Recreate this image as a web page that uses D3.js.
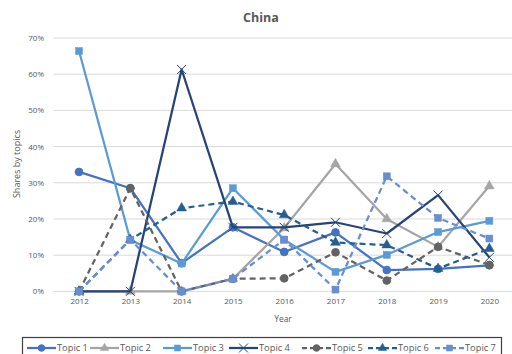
<!DOCTYPE html>
<html>
<head>
<meta charset="utf-8">
<script src="https://cdn.jsdelivr.net/npm/d3@7/dist/d3.min.js"></script>
<style>
  html, body { margin: 0; padding: 0; background: #fff; }
  svg { display: block; font-family: "Open Sans", "Noto Sans", "Liberation Sans", sans-serif; }
</style>
</head>
<body>
<svg id="chart" width="512" height="354"></svg>
<script>
// Years on the category axis
const years = ["2012", "2013", "2014", "2015", "2016", "2017", "2018", "2019", "2020"];

// Share of each topic per year (percent)
const topic1 = [33.0, 28.5, 7.8, 17.7, 10.9, 16.3, 5.9, 6.2, 7.2];
const topic2 = [0, 0, 0, 3.5, 17.5, 35.2, 20.0, 12.3, 29.1];
const topic3 = [66.4, 14.2, 7.7, 28.5, 14.3, 5.4, 10.1, 16.4, 19.5];
const topic4 = [0, 0, 61.3, 17.7, 17.7, 19.1, 16.0, 26.6, 9.4];
const topic5 = [0, 28.5, 0, 3.5, 3.6, 10.8, 3.0, 12.3, 7.3];
const topic6 = [0, 14.3, 23.0, 24.8, 21.1, 13.5, 12.8, 6.3, 11.8];
const topic7 = [0, 14.3, 0, 3.5, 14.3, 0.5, 31.8, 20.3, 14.6];

const yTicks = [0, 10, 20, 30, 40, 50, 60, 70];

const series = [
  { name: "Topic 1", values: topic1, color: "#4472C4", dash: null, marker: "circle" },
  { name: "Topic 2", values: topic2, color: "#A5A5A5", dash: null, marker: "triangle" },
  { name: "Topic 3", values: topic3, color: "#5B9BD5", dash: null, marker: "square" },
  { name: "Topic 4", values: topic4, color: "#264478", dash: null, marker: "x" },
  { name: "Topic 5", values: topic5, color: "#636363", dash: "6,4", marker: "circle" },
  { name: "Topic 6", values: topic6, color: "#255E91", dash: "6,4", marker: "triangle" },
  { name: "Topic 7", values: topic7, color: "#698ED0", dash: "6,4", marker: "square" }
];

const svg = d3.select("#chart");
const plot = { left: 53.4, right: 515, top: 38, bottom: 291.4 };

const x = d3.scalePoint().domain(years).range([plot.left, plot.right]).padding(0.5);
const y = d3.scaleLinear().domain([0, 70]).range([plot.bottom, plot.top]);

// Gridlines
svg.append("g")
  .selectAll("line")
  .data(yTicks)
  .join("line")
  .attr("x1", plot.left).attr("x2", plot.right)
  .attr("y1", d => y(d)).attr("y2", d => y(d))
  .attr("stroke", "#D9D9D9").attr("stroke-width", 1);

const fontFam = "'Open Sans', 'Noto Sans', sans-serif";

// Y axis labels
const yAxis = d3.axisLeft(y).tickValues(yTicks).tickFormat(d => d + "%").tickSize(0).tickPadding(0);
svg.append("g")
  .attr("transform", `translate(44,0)`)
  .call(yAxis)
  .call(g => g.select(".domain").remove())
  .call(g => g.selectAll("text").attr("fill", "#595959").attr("font-size", 8)
    .attr("font-family", fontFam));

// X axis labels
const xAxis = d3.axisBottom(x).tickSize(0).tickPadding(0);
svg.append("g")
  .attr("transform", `translate(0,${plot.bottom + 6.5})`)
  .call(xAxis)
  .call(g => g.select(".domain").remove())
  .call(g => g.selectAll("text").attr("fill", "#595959").attr("font-size", 8)
    .attr("font-family", fontFam));

// Titles
svg.append("text")
  .attr("x", 261).attr("y", 22)
  .attr("text-anchor", "middle")
  .attr("font-size", 12.5).attr("font-weight", "bold").attr("fill", "#595959")
  .text("China");

svg.append("text")
  .attr("x", 283).attr("y", 322)
  .attr("text-anchor", "middle")
  .attr("font-size", 8.5).attr("fill", "#595959")
  .text("Year");

svg.append("text")
  .attr("transform", "translate(20,164) rotate(-90)")
  .attr("text-anchor", "middle")
  .attr("font-size", 9).attr("fill", "#595959")
  .text("Shares by topics");

// Marker drawing helper
function drawMarker(g, type, color, size) {
  const s = size;
  if (type === "circle") {
    g.append("circle").attr("r", s * 0.55).attr("fill", color).attr("stroke", color);
  } else if (type === "square") {
    g.append("rect").attr("x", -s / 2).attr("y", -s / 2).attr("width", s).attr("height", s)
      .attr("fill", color).attr("stroke", color).attr("stroke-width", 0.5);
  } else if (type === "triangle") {
    g.append("path").attr("d", d3.symbol(d3.symbolTriangle, s * s * 0.85)())
      .attr("fill", color).attr("stroke", color).attr("stroke-width", 0.5);
  } else if (type === "x") {
    const h = s / 2 + 0.5;
    g.append("path").attr("d", `M${-h},${-h}L${h},${h}M${-h},${h}L${h},${-h}`)
      .attr("stroke", color).attr("stroke-width", 1).attr("fill", "none");
  }
}

const line = d3.line().x((d, i) => x(years[i])).y(d => y(d));

// Series lines and markers
series.forEach(s => {
  const g = svg.append("g");
  g.append("path")
    .attr("d", line(s.values))
    .attr("fill", "none")
    .attr("stroke", s.color)
    .attr("stroke-width", 2.25)
    .attr("stroke-linejoin", "round")
    .attr("stroke-dasharray", s.dash);
  s.values.forEach((v, i) => {
    const m = g.append("g").attr("transform", `translate(${x(years[i])},${y(v)})`);
    drawMarker(m, s.marker, s.color, s.marker === "x" ? 8 : 7);
  });
});

// Legend
const legend = svg.append("g");
legend.append("rect")
  .attr("x", 22.5).attr("y", 337.5).attr("width", 479).attr("height", 24)
  .attr("fill", "#fff").attr("stroke", "#404040").attr("stroke-width", 1.2);

const legendX = [27, 90, 163, 229, 302, 368, 435];
series.forEach((s, i) => {
  const lg = legend.append("g").attr("transform", `translate(${legendX[i]},348)`);
  lg.append("line").attr("x1", 0).attr("x2", 29).attr("y1", 0).attr("y2", 0)
    .attr("stroke", s.color).attr("stroke-width", 2.25)
    .attr("stroke-dasharray", s.dash ? "5,3" : null);
  const m = lg.append("g").attr("transform", "translate(14.5,0)");
  drawMarker(m, s.marker, s.color, s.marker === "x" ? 8 : 6);
  lg.append("text").attr("x", 30).attr("y", 3.3)
    .attr("font-size", 9.3).attr("fill", "#595959")
    .text(s.name);
});
</script>
</body>
</html>
